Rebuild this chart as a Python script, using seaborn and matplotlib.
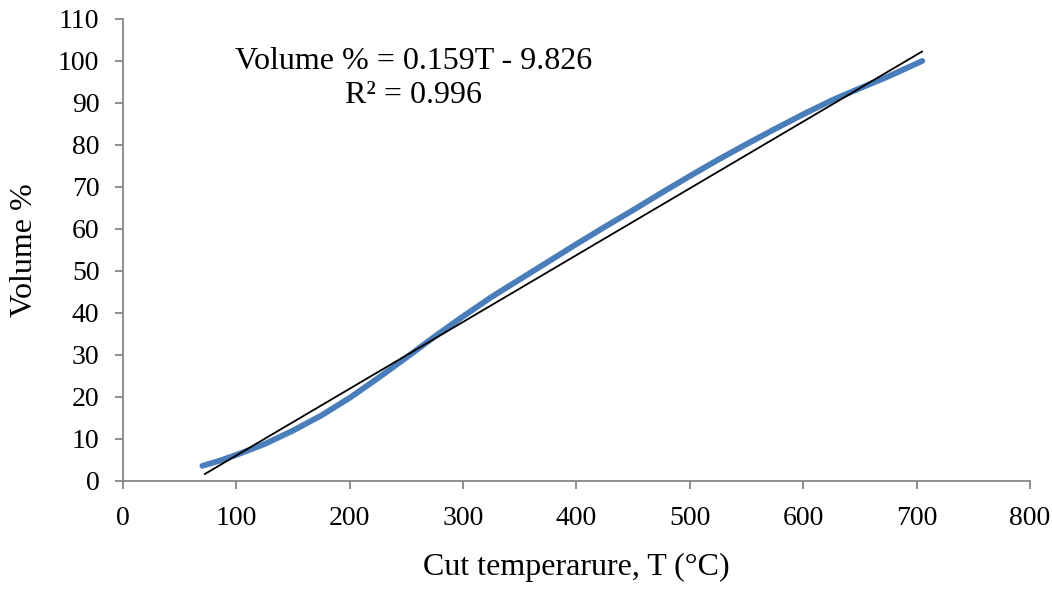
import numpy as np
import pandas as pd
import seaborn as sns
import matplotlib.pyplot as plt
from matplotlib.ticker import MultipleLocator

# values
temp = [70, 85, 100, 125, 150, 175, 200, 225, 250, 275, 300, 325, 350, 375,
        400, 425, 450, 475, 500, 525, 550, 575, 600, 625, 650, 675, 705]
volume = [3.6, 4.8, 6.2, 8.8, 12.0, 15.6, 19.8, 24.5, 29.4, 34.4, 39.2, 43.8, 48.0, 52.2,
          56.4, 60.5, 64.5, 68.6, 72.6, 76.5, 80.2, 83.8, 87.3, 90.6, 93.5, 96.3, 100.0]
slope = 0.159
intercept = -9.826
r2 = 0.996
trend_x = [72, 705]

sns.set_theme(style="ticks")
plt.rcParams['font.family'] = ['Liberation Serif', 'DejaVu Serif']
plt.rcParams['text.color'] = 'black'
plt.rcParams['axes.labelcolor'] = 'black'

data = pd.DataFrame({"T": temp, "vol": volume})
trend = pd.DataFrame({"T": trend_x, "vol": [slope * t + intercept for t in trend_x]})

fig = plt.figure(figsize=(10.52, 5.93), dpi=100)
ax = fig.add_axes([0.117, 0.189, 0.862, 0.779])

sns.lineplot(data=data, x="T", y="vol", ax=ax, color="#4a7ebb", linewidth=4.2,
             solid_capstyle="round", solid_joinstyle="round")
sns.lineplot(data=trend, x="T", y="vol", ax=ax, color="black", linewidth=1.3)

ax.set_xlim(0, 800)
ax.set_ylim(0, 110)
ax.xaxis.set_major_locator(MultipleLocator(100))
ax.yaxis.set_major_locator(MultipleLocator(10))

for side in ["top", "right"]:
    ax.spines[side].set_visible(False)
for side in ["left", "bottom"]:
    ax.spines[side].set_color("#868686")
    ax.spines[side].set_linewidth(1.3)
ax.tick_params(axis="both", direction="out", length=6, width=1.3, color="#868686",
               labelsize=20, labelcolor="black")
ax.tick_params(axis="x", pad=12)
ax.tick_params(axis="y", pad=11)

ax.set_xlabel("Cut temperarure, T (°C)", fontsize=23, labelpad=16)
ax.set_ylabel("Volume %", fontsize=23, labelpad=14)

ax.text(256, 95.8, f"Volume % = {slope}T - {abs(intercept)}\nR² = {r2}",
        ha="center", va="center", fontsize=23, linespacing=1.25)

fig.savefig("out.png", dpi=100)
